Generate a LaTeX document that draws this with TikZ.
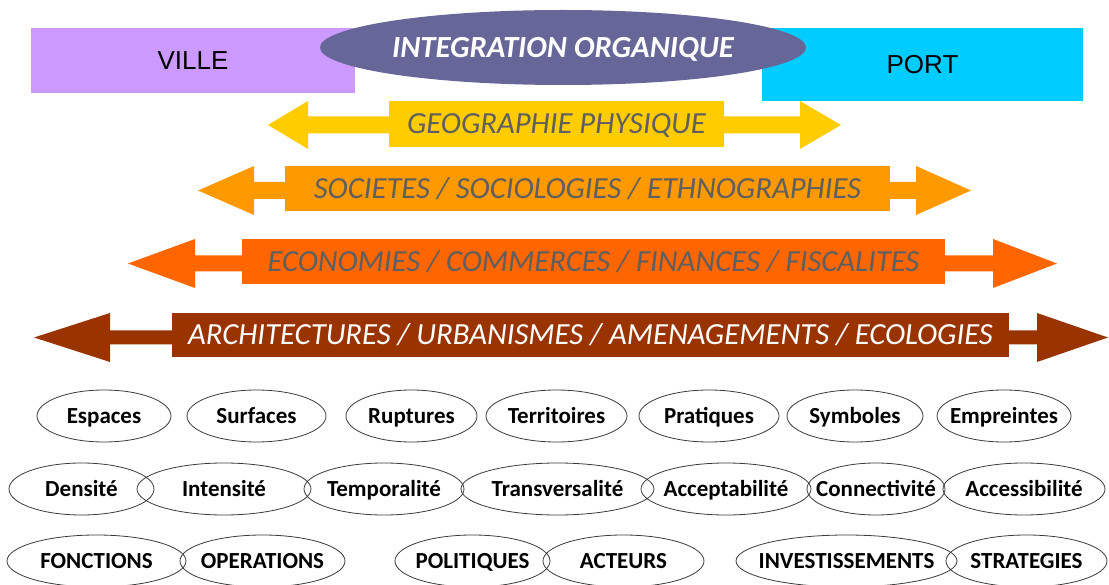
\documentclass[tikz,border=0pt]{standalone}
\usepackage{fontspec}
\setmainfont{Carlito}
\newfontfamily\arialf{Liberation Sans}
\usetikzlibrary{shapes.geometric}
\definecolor{villec}{HTML}{CC99FF}
\definecolor{portc}{HTML}{00CCFF}
\definecolor{integc}{HTML}{666699}
\definecolor{geoc}{HTML}{FFCC00}
\definecolor{socc}{HTML}{FF9900}
\definecolor{ecoc}{HTML}{FF6600}
\definecolor{archc}{HTML}{993300}
\definecolor{txtgray}{HTML}{5F5F5F}
\definecolor{ellline}{HTML}{3A3A3A}
\newcommand{\dblarrow}[8]{%
  \fill[#1] (#2,#6) -- (#3,{#6-#7}) -- (#3,{#6-#8}) -- (#4,{#6-#8}) -- (#4,{#6-#7})
    -- (#5,#6) -- (#4,{#6+#7}) -- (#4,{#6+#8}) -- (#3,{#6+#8}) -- (#3,{#6+#7}) -- cycle;}
\newcommand{\zw}[1]{\makebox[0pt]{#1}}
\tikzset{
  sidebox/.style={rectangle, inner sep=0pt, font=\arialf\fontsize{26}{30}\selectfont, text=black,
    text height=19pt, text depth=0pt},
  bandbox/.style={rectangle, inner sep=0pt, font=\itshape\fontsize{30.7}{36}\selectfont, text=txtgray,
    text height=20pt, text depth=0pt},
  ell/.style={ellipse, draw=ellline, line width=0.8pt, inner sep=0pt, minimum height=52pt,
    font=\bfseries\fontsize{23}{26}\selectfont, text=black, text height=15pt, text depth=0pt},
}
\begin{document}
\begin{tikzpicture}[x=1pt,y=-1pt]
\useasboundingbox[fill=white] (0,0) rectangle (1109,585);
% top boxes
\node[sidebox, fill=villec, minimum width=324pt, minimum height=65pt] (ville) at (193,60.5) {VILLE};
\node[sidebox, fill=portc, minimum width=321pt, minimum height=73pt] (port) at (922.5,64.5) {PORT};
\node[ellipse, fill=integc, inner sep=0pt, minimum width=486pt, minimum height=75pt,
  text=white, font=\bfseries\itshape\fontsize{30.7}{36}\selectfont, text height=20pt, text depth=0pt] (integ) at (563,47.5) {\zw{INTEGRATION ORGANIQUE}};
% bands
\dblarrow{geoc}{268}{308}{800}{841}{125}{24}{8.5}
\node[bandbox, fill=geoc, minimum width=335pt, minimum height=46pt] (geo) at (556.5,124) {GEOGRAPHIE PHYSIQUE};
\dblarrow{socc}{198}{254}{916}{971}{190.5}{24.5}{8.5}
\node[bandbox, fill=socc, minimum width=605pt, minimum height=45pt] (soc) at (587.5,188.5) {SOCIETES / SOCIOLOGIES / ETHNOGRAPHIES};
\dblarrow{ecoc}{128}{195}{993}{1057}{263.5}{24.5}{8}
\node[bandbox, fill=ecoc, minimum width=703pt, minimum height=45pt] (eco) at (593.5,261.5) {ECONOMIES / COMMERCES / FINANCES / FISCALITES};
\dblarrow{archc}{34}{110}{1037}{1108}{337.5}{24.5}{7}
\node[bandbox, fill=archc, text=white, minimum width=837pt, minimum height=44pt] (arch) at (590.5,335) {ARCHITECTURES / URBANISMES / AMENAGEMENTS / ECOLOGIES};
% row 1
\node[ell, minimum width=134pt] (e11) at (104,416) {\zw{Espaces}};
\node[ell, minimum width=139pt] (e12) at (256.5,416) {\zw{Surfaces}};
\node[ell, minimum width=131pt] (e13) at (411.5,416) {\zw{Ruptures}};
\node[ell, minimum width=141pt] (e14) at (556.5,416) {\zw{Territoires}};
\node[ell, minimum width=140pt] (e15) at (709,416) {\zw{Pratiques}};
\node[ell, minimum width=136pt] (e16) at (855,416) {\zw{Symboles}};
\node[ell, minimum width=134pt] (e17) at (1004,416) {\zw{Empreintes}};
% row 2
\node[ell, minimum width=145pt] (e21) at (81.5,489) {\zw{Densité}};
\node[ell, minimum width=174pt] (e22) at (224,489) {\zw{Intensité}};
\node[ell, minimum width=160pt] (e23) at (384,489) {\zw{Temporalité}};
\node[ell, minimum width=193pt] (e24) at (557.5,489) {\zw{Transversalité}};
\node[ell, minimum width=170pt] (e25) at (726,489) {\zw{Acceptabilité}};
\node[ell, minimum width=138pt] (e26) at (876,489) {\zw{Connectivité}};
\node[ell, minimum width=162pt] (e27) at (1024,489) {\zw{Accessibilité}};
% row 3
\node[ell, minimum width=179pt] (e31) at (96.5,561) {\zw{FONCTIONS}};
\node[ell, minimum width=165pt] (e32) at (262.5,561) {\zw{OPERATIONS}};
\node[ell, minimum width=155pt] (e33) at (472.5,561) {\zw{POLITIQUES}};
\node[ell, minimum width=161pt] (e34) at (623.5,561) {\zw{ACTEURS}};
\node[ell, minimum width=221pt] (e35) at (846.5,561) {\zw{INVESTISSEMENTS}};
\node[ell, minimum width=161pt] (e36) at (1026.5,561) {\zw{STRATEGIES}};
\end{tikzpicture}
\end{document}
